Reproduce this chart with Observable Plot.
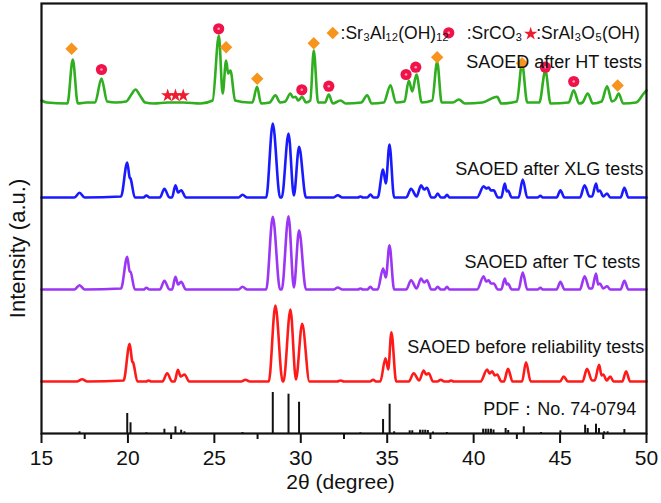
<!DOCTYPE html>
<html><head><meta charset="utf-8">
<script src="https://cdn.jsdelivr.net/npm/d3@7"></script>
<script src="https://cdn.jsdelivr.net/npm/@observablehq/plot@0.6"></script>
<style>body{margin:0;background:#fff}</style>
</head><body><div id="chart"></div>
<script>
// ---- data ----
const xMajorTicks = [15,20,25,30,35,40,45,50];
const xMinorTicks = [17.5,22.5,27.5,32.5,37.5,42.5,47.5];

// [2θ, intensity above own baseline]
const htTrace = [[15,3],[15.3,1],[16.5,0],[16.81,44],[17.1,0],[17.6,1],[18.1,1],[18.47,25],[18.8,2],[19.3,1],[19.9,2],[20.2,9],[20.44,14],[20.7,8],[21.0,1],[21.5,0],[22.3,1],[23.2,1],[24.2,0],[24.9,3],[25.26,68],[25.48,10],[25.68,43],[25.8,30],[25.93,33],[26.2,3],[27.0,1],[27.2,1],[27.47,16.7],[27.7,0],[28.2,1],[28.53,8.3],[28.8,1],[29.1,2],[29.4,10],[29.55,6],[29.7,6.7],[29.85,3],[30.08,6.7],[30.3,1],[30.55,3],[30.75,53],[31.0,1],[31.4,1],[31.62,9],[31.85,0],[32.3,3],[32.6,0],[33.5,1],[33.84,8.3],[34.1,0],[34.8,1],[35.19,18.3],[35.5,1],[36.0,2],[36.25,23],[36.45,12],[36.69,29],[37.0,1],[37.6,3],[37.89,41.7],[38.15,1],[38.8,1],[39.14,4],[39.5,0],[40.5,1],[41.36,6.7],[41.6,0],[42.5,2],[42.8,40],[43.1,1],[43.8,1],[44.15,33],[44.45,0],[45.5,1],[45.79,13.3],[46.1,0],[46.3,1],[46.6,10],[46.9,0],[47.4,2],[47.72,17.3],[48.0,2],[48.2,4],[48.39,10],[48.65,0],[49.4,1],[49.84,10],[50,13]];

const xlgTrace = [[15,0],[16.9,0],[17.2,4.7],[17.5,0],[19.6,1],[19.96,35],[20.1,20],[20.15,19],[20.4,0],[20.9,0],[21.07,2],[21.25,0],[21.85,0],[22.11,8.7],[22.4,0],[22.55,0],[22.75,12.3],[22.9,5],[23.08,7.3],[23.35,0],[26.4,0],[26.63,2.7],[26.9,0],[28.0,0],[28.38,74],[28.8,0],[28.9,0],[29.29,64],[29.6,2],[29.9,50.7],[30.3,0],[31.9,0],[32.14,2.3],[32.4,0],[33.3,0],[33.45,1],[33.6,0],[33.85,0],[34.03,3],[34.2,0],[34.45,0],[34.76,28],[34.92,14],[35.13,53],[35.4,0],[36.1,0],[36.38,8.7],[36.7,1],[36.96,12.3],[37.13,8],[37.3,9.7],[37.55,0],[37.75,0],[37.92,4],[38.1,0],[38.3,0],[38.46,2.7],[38.6,0],[40.2,0],[40.58,11.3],[40.72,9],[40.87,10],[41.0,7],[41.16,7.3],[41.4,0],[41.6,0],[41.8,14],[41.92,6],[41.99,7],[42.2,0],[42.6,0],[42.84,18],[43.1,0],[43.7,0],[43.86,1.7],[44.0,0],[44.8,0],[45.02,7.3],[45.25,0],[46.15,0],[46.42,12.3],[46.7,1],[46.85,1],[47.08,14],[47.2,6],[47.3,7],[47.5,1],[47.72,4],[47.9,0],[48.5,0],[48.72,9.7],[48.95,0],[50,0]];

const tcTrace = [[15,0],[16.9,0],[17.2,4.3],[17.5,0],[19.6,1],[19.96,32.7],[20.1,18],[20.15,17.7],[20.4,0],[20.9,0],[21.07,1.7],[21.25,0],[21.85,0],[22.11,8.7],[22.4,0],[22.55,0],[22.75,12.7],[22.9,5],[23.08,7.7],[23.35,0],[26.4,0],[26.63,2.7],[26.9,0],[28.0,0],[28.38,72.7],[28.8,0],[28.9,0],[29.29,73.3],[29.6,2],[29.9,59.3],[30.3,0],[31.9,0],[32.14,2],[32.4,0],[33.3,0],[33.45,1],[33.6,0],[33.85,0],[34.03,2.7],[34.2,0],[34.45,0],[34.76,21],[34.92,12],[35.13,44.3],[35.4,0],[36.1,0],[36.38,9.3],[36.7,1],[36.96,11],[37.13,7],[37.3,9.3],[37.55,0],[37.75,0],[37.92,2.7],[38.1,0],[38.3,0],[38.46,2.7],[38.6,0],[40.2,0],[40.58,13.3],[40.72,8],[40.87,9.3],[41.0,6],[41.16,6],[41.4,0],[41.6,0],[41.8,11],[41.92,5],[41.99,6],[42.2,0],[42.6,0],[42.84,17],[43.1,0],[43.7,0],[43.86,1.7],[44.0,0],[44.8,0],[45.02,7.7],[45.25,0],[46.15,0],[46.42,13.3],[46.7,1],[46.85,1],[47.08,16],[47.2,5],[47.3,6],[47.5,1],[47.72,3.3],[47.9,0],[48.5,0],[48.72,8.7],[48.95,0],[50,0]];

const beforeTrace = [[15,0],[17.05,0],[17.35,2.3],[17.65,0],[19.75,1],[20.1,37.7],[20.25,20],[20.3,19],[20.55,0],[21.05,0],[21.2,1],[21.35,0],[22.0,0],[22.27,8.3],[22.55,0],[22.7,0],[22.89,11.7],[23.05,5],[23.27,7],[23.55,0],[26.55,0],[26.8,1.7],[27.05,0],[28.15,0],[28.53,76],[28.95,0],[29.0,0],[29.4,72],[29.72,2],[30.08,57.7],[30.5,0],[32.1,0],[32.3,1],[32.5,0],[34.0,0],[34.19,1.7],[34.35,0],[34.6,0],[34.9,23.3],[35.06,12],[35.24,49.3],[35.52,0],[36.25,0],[36.53,8.3],[36.85,1],[37.11,11],[37.25,7],[37.4,8.3],[37.65,0],[37.9,0],[38.1,1.7],[38.3,0],[38.55,0],[38.7,1],[38.85,0],[40.4,0],[40.78,12],[40.92,8],[41.07,10.3],[41.22,6],[41.36,7],[41.6,0],[41.75,0],[41.99,12.7],[42.25,0],[42.8,0],[43.03,19.3],[43.3,0],[45.0,0],[45.21,5],[45.45,0],[46.3,0],[46.56,12.7],[46.85,1],[47.0,1],[47.26,16.7],[47.4,6],[47.5,7],[47.7,1],[47.9,5],[48.1,0],[48.6,0],[48.82,10.3],[49.05,0],[50,0]];

// reference pattern sticks [2θ, height]
const pdfSticks = [[17.2,1.7],[19.96,20],[20.15,10.7],[21.07,0.7],[22.11,4.3],[22.75,6.7],[23.08,3.3],[23.27,1.7],[26.63,1],[28.38,41],[29.29,39.3],[29.9,31.3],[33.45,0.7],[34.76,14],[35.14,29.3],[35.4,1.7],[36.3,2.7],[36.45,2.7],[36.9,3.3],[37.05,3.3],[37.2,3.3],[37.35,3],[37.65,1.5],[38.45,1],[40.55,4.3],[40.7,4.3],[40.85,4.3],[41.0,4.3],[41.15,3.5],[41.85,5],[42.0,3],[42.9,6.7],[43.9,1],[45.02,2.7],[46.45,8.3],[46.6,5],[47.08,9.3],[47.25,5],[47.55,1.7],[47.75,1.7],[48.72,4]];

// phase markers on the HT trace [2θ, y]
const diamondMarks = [[16.74,384.7],[25.68,386.3],[27.48,354.7],[30.75,390.3],[37.89,376.3],[42.8,370.3],[48.33,348]];
const circleMarks = [[18.47,364],[25.25,404.7],[30.06,343.7],[31.62,347.3],[36.09,359],[36.65,366.3],[44.15,366.3],[45.79,352]];
const starMarks = [[22.3,338],[22.75,338],[23.2,338]];

const seriesNames = ["SAOED after HT tests","SAOED after XLG tests","SAOED after TC tests","SAOED before reliability tests","PDF：No. 74-0794"];
const legendNames = [":Sr₃Al₁₂(OH)₁₂", ":SrCO₃", ":SrAl₃O₅(OH)"];
const xLabel = "2θ (degree)";
const yLabel = "Intensity (a.u.)";

// ---- layout ----
const offsets = {ht: 330, xlg: 236, tc: 144, before: 52};
const colors = {ht: "#2fae1f", xlg: "#1a1aff", tc: "#9b36f5", before: "#ff1a1a"};
const F = "Liberation Sans, Arial, sans-serif";

const lineOf = (data, key) => Plot.line(data, {
  x: d => d[0], y: d => d[1] + offsets[key],
  curve: "monotone-x", stroke: colors[key], strokeWidth: 2.6, strokeLinejoin: "round"
});

const labelPos = [[49.74,371.5],[49.82,264],[49.64,171],[49.87,86],[49.41,24]];
const legendPos = [[32.3,399.7],[39.6,399.7],[43.62,399.7]];
const legendKeys = {diamond: [31.85, 400.5], circle: [38.56, 400.7], star: [43.3, 399.7]};

const chart = Plot.plot({
  width: 661, height: 503,
  marginLeft: 41, marginRight: 15, marginTop: 3, marginBottom: 70,
  style: {fontFamily: F, background: "#fff"},
  x: {domain: [15, 50]},
  y: {domain: [0, 430], axis: null},
  marks: [
    lineOf(htTrace, "ht"),
    lineOf(xlgTrace, "xlg"),
    lineOf(tcTrace, "tc"),
    lineOf(beforeTrace, "before"),
    Plot.ruleX(pdfSticks, {x: d => d[0], y1: 0, y2: d => d[1], stroke: "#111", strokeWidth: 2}),
    Plot.dot(diamondMarks.concat([legendKeys.diamond]), {x: d => d[0], y: d => d[1], symbol: "diamond2", r: 5.6, fill: "#f7941d", stroke: "none"}),
    Plot.dot(circleMarks.concat([legendKeys.circle]), {x: d => d[0], y: d => d[1], r: 5.6, fill: "#f0124a", stroke: "none"}),
    Plot.dot(circleMarks.concat([legendKeys.circle]), {x: d => d[0], y: d => d[1], r: 1.3, fill: "#ff9db3", stroke: "none"}),
    Plot.dot(starMarks.concat([legendKeys.star]), {x: d => d[0], y: d => d[1], symbol: "star", r: 4.2, fill: "#ee1c2f", stroke: "none"}),
    Plot.text(seriesNames, {x: (d, i) => labelPos[i][0], y: (d, i) => labelPos[i][1], text: d => d, textAnchor: "end", fontSize: 18, fill: "#111"}),
    Plot.text(legendNames, {x: (d, i) => legendPos[i][0], y: (d, i) => legendPos[i][1], text: d => d, textAnchor: "start", fontSize: 17.5, fill: "#111"}),
    Plot.axisX({ticks: xMajorTicks, tickSize: 10, tickPadding: 7, fontSize: 21, strokeWidth: 2, stroke: "#111", fill: "#111", label: null}),
    Plot.axisX({ticks: xMinorTicks, tickSize: 6, tickFormat: () => "", strokeWidth: 2, stroke: "#111", label: null}),
    Plot.text([xLabel], {x: 32.3, frameAnchor: "bottom", dy: 55, text: d => d, fontSize: 21, fill: "#111"}),
    Plot.text([yLabel], {x: 15, y: 185, dx: -24, rotate: -90, text: d => d, fontSize: 22, fill: "#111"}),
    Plot.frame({stroke: "#111", strokeWidth: 2.2})
  ]
});
document.getElementById("chart").appendChild(chart);
</script>
</body></html>
